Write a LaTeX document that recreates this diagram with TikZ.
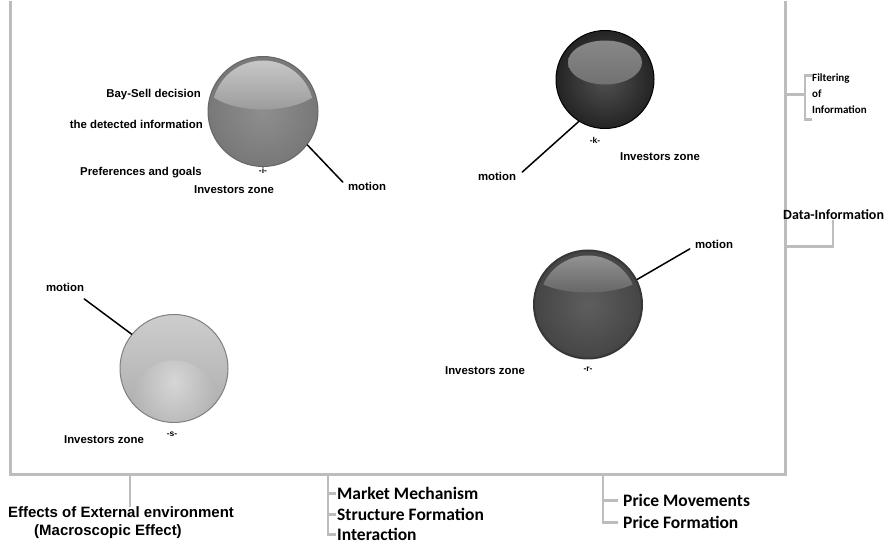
\documentclass[tikz,border=0pt]{standalone}
\usepackage{fontspec}
\setmainfont{Liberation Sans}
\newfontfamily\calib{Carlito}
\usetikzlibrary{calc}

\definecolor{framegray}{HTML}{BDBDBD}
\definecolor{iedge}{HTML}{787878}
\definecolor{imid}{HTML}{8E8E8E}
\definecolor{ihi}{HTML}{CDCDCD}
\definecolor{ilo}{HTML}{9C9C9C}
\definecolor{kedge}{HTML}{242424}
\definecolor{kmid}{HTML}{505050}
\definecolor{khi}{HTML}{8C8C8C}
\definecolor{klo}{HTML}{5C5C5C}
\definecolor{redge}{HTML}{454545}
\definecolor{rmid}{HTML}{5E5E5E}
\definecolor{rhi}{HTML}{9A9A9A}
\definecolor{rlo}{HTML}{676767}
\definecolor{stop}{HTML}{CDCDCD}
\definecolor{sbot}{HTML}{ABABAB}
\definecolor{sglow}{HTML}{D6D6D6}

\begin{document}
\begin{tikzpicture}[x=1pt, y=-1pt, line cap=round,
    frame/.style={draw=framegray, line width=3pt, line cap=butt, line join=miter},
    branch/.style={draw=framegray, line width=2.4pt, line cap=butt},
    lbl/.style={font=\fontsize{11.4}{13}\selectfont\bfseries, inner sep=0pt},
    tag/.style={font=\fontsize{8.5}{10}\selectfont\bfseries, inner sep=0pt},
    side/.style={font=\calib\fontsize{17.5}{20}\selectfont\bfseries, inner sep=0pt, anchor=west},
    sphere/.style={circle, inner sep=0pt, minimum size=#1, line width=1pt},
    motion/.style={line width=1.5pt}]

    \fill[white] (0,0) rectangle (887,546);

    % frame of the market, open at the top
    \coordinate (ftl) at (10,0);
    \coordinate (fbl) at (10,473);
    \coordinate (fbr) at (785,473);
    \coordinate (ftr) at (785,0);
    \draw[frame] (ftl) -- (fbl) -- (fbr) -- (ftr);

    % investor spheres
    \node[sphere=110pt, draw=iedge!85!black, inner color=imid, outer color=iedge,
        path picture={
            \begin{scope}
            \clip (path picture bounding box.center) circle (51pt);
            \shade[top color=ihi, bottom color=ilo] ([yshift=30pt]path picture bounding box.center) ellipse (60pt and 28pt);
            \end{scope}}] (zi) at (263,110) {};
    \node[sphere=98pt, draw=black, inner color=kmid, outer color=kedge,
        path picture={
            \shade[top color=khi, bottom color=klo] ([yshift=17pt]path picture bounding box.center) ellipse (37pt and 22pt);}] (zk) at (605,78) {};
    \node[sphere=108pt, draw=redge!80!black, line width=2pt, inner color=rmid, outer color=redge,
        path picture={
            \begin{scope}
            \clip (path picture bounding box.center) circle (49pt);
            \shade[top color=rhi, bottom color=rlo] ([yshift=34pt]path picture bounding box.center) ellipse (58pt and 22pt);
            \end{scope}}] (zr) at (588,303) {};
    \node[sphere=108pt, draw=gray, top color=stop, bottom color=sbot,
        path picture={
            \shade[inner color=sglow, outer color=sbot] ([yshift=-36pt]path picture bounding box.center) circle (44pt);}] (zs) at (174,367) {};

    % labels of zone i
    \node[lbl, anchor=east] (bay) at (201,93) {Bay-Sell decision};
    \node[lbl, anchor=east] (det) at (203,123) {the detected information};
    \node[lbl, anchor=east] (pref) at (202,171) {Preferences and goals};
    \node[tag] (ti) at (263,169) {-i-};
    \node[lbl] (iz) at (234,188) {Investors zone};
    \node[lbl] (mi) at (367,185) {motion};
    \draw[motion] (zi.-37) -- ([xshift=-5pt]mi.north west);

    % zone k
    \node[tag] (tk) at (595,139) {-k-};
    \node[lbl] (kz) at (660,155) {Investors zone};
    \node[lbl] (mk) at (497,175) {motion};
    \draw[motion] (zk.238) -- ([xshift=6pt]mk.north east);

    % zone r
    \node[lbl] (rz) at (485,369) {Investors zone};
    \node[tag] (tr) at (588,368) {-r-};
    \node[lbl] (mr) at (714,243) {motion};
    \draw[motion] (zr.27.5) -- ([xshift=-5pt]mr.south west);

    % zone s
    \node[lbl] (sz) at (104,438) {Investors zone};
    \node[tag] (ts) at (172,433) {-s-};
    \node[lbl] (ms) at (65,286) {motion};
    \draw[motion] (zs.141.5) -- ([yshift=-7pt]ms.south east);

    % information branches on the right
    \coordinate (bf) at (785,93);
    \coordinate (bd) at (785,245);
    \node[side, font=\calib\fontsize{11}{16}\selectfont\bfseries, align=left] (filt) at (812,92) {Filtering\\of\\Information};
    \node[side, font=\calib\fontsize{14}{16}\selectfont\bfseries] (dat) at (783,213) {Data-Information};
    \draw[branch] (bf) -- ++(20,0) coordinate (bk);
    \draw[branch] ($(bk)+(7,-19)$) -- ++(-7,0) -- ++(0,44) -- ++(7,0);
    \draw[branch] (bd) -| ([xshift=50pt]dat.south west);

    % branches below the frame
    \coordinate (be) at (130,473);
    \coordinate (bm) at (328,473);
    \coordinate (bp) at (603,473);
    \node[font=\fontsize{15}{17}\selectfont\bfseries, inner sep=0pt] (eff) at (121,511) {Effects of External environment};
    \node[font=\fontsize{15}{17}\selectfont\bfseries, inner sep=0pt] (mac) at (108,530) {(Macroscopic Effect)};
    \draw[branch] (be) -- (be |- eff.north);

    \node[side] (mm) at (337,492) {Market Mechanism};
    \node[side] (sf) at (337,513) {Structure Formation};
    \node[side] (ia) at (337,533) {Interaction};
    \draw[branch] (bm) |- ([xshift=-1pt]ia.west);
    \draw[branch] (bm) |- ([xshift=-1pt]mm.west);
    \draw[branch] (bm) |- ([xshift=-1pt]sf.west);

    \node[side] (pm) at (623,499) {Price Movements};
    \node[side] (pf) at (623,521) {Price Formation};
    \draw[branch] (bp) |- ([xshift=-5pt]pf.west);
    \draw[branch] (bp) |- ([xshift=-5pt]pm.west);

\end{tikzpicture}
\end{document}
